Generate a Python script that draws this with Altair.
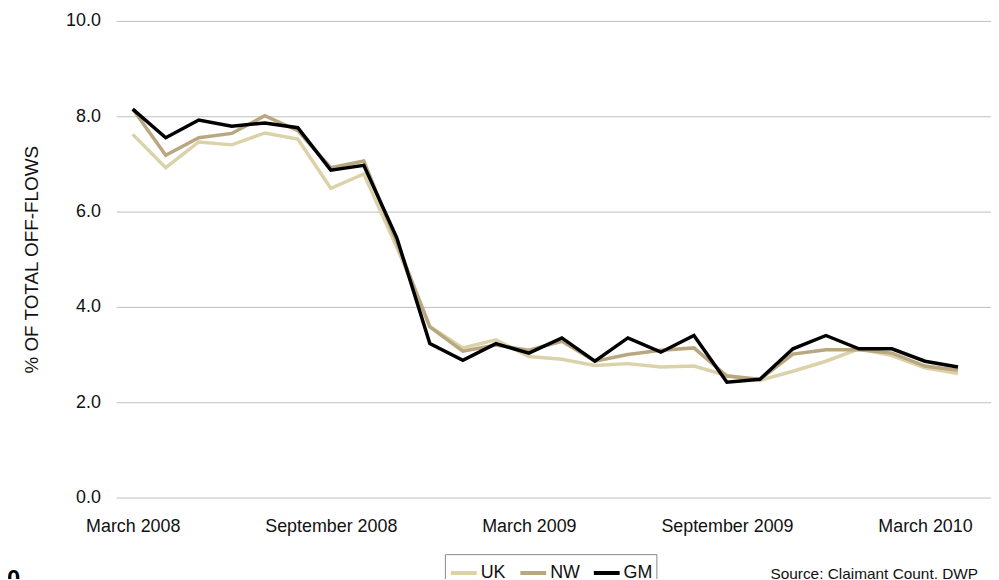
import altair as alt
import pandas as pd

months = [
    "March 2008", "April 2008", "May 2008", "June 2008", "July 2008", "August 2008",
    "September 2008", "October 2008", "November 2008", "December 2008", "January 2009",
    "February 2009", "March 2009", "April 2009", "May 2009", "June 2009", "July 2009",
    "August 2009", "September 2009", "October 2009", "November 2009", "December 2009",
    "January 2010", "February 2010", "March 2010", "April 2010",
]
uk = [7.62, 6.92, 7.46, 7.40, 7.65, 7.52, 6.49, 6.79, 5.25, 3.59, 3.14, 3.31, 2.96,
      2.90, 2.77, 2.81, 2.74, 2.76, 2.56, 2.46, 2.65, 2.86, 3.12, 2.98, 2.72, 2.60]
nw = [8.15, 7.18, 7.55, 7.64, 8.01, 7.70, 6.92, 7.06, 5.35, 3.58, 3.07, 3.20, 3.09,
      3.28, 2.86, 3.00, 3.09, 3.14, 2.55, 2.48, 3.01, 3.10, 3.10, 3.03, 2.76, 2.67]
gm = [8.15, 7.55, 7.92, 7.79, 7.86, 7.76, 6.87, 6.97, 5.45, 3.23, 2.88, 3.23, 3.03,
      3.35, 2.86, 3.35, 3.05, 3.40, 2.42, 2.48, 3.12, 3.40, 3.12, 3.12, 2.86, 2.74]
series_names = ["UK", "NW", "GM"]
series_colors = ["#DCD2A9", "#B8A77F", "#000000"]
label_ticks = [0, 6, 12, 18, 24]
source_text = "Source: Claimant Count, DWP"

rows = []
for name, vals in zip(series_names, [uk, nw, gm]):
    for i, v in enumerate(vals):
        rows.append({"i": i, "month": months[i], "series": name, "value": v})
df = pd.DataFrame(rows)

FONT = "Liberation Sans"
month_js = "[" + ",".join("'" + m + "'" for m in months) + "]"

x_enc = alt.X(
    "i:Q",
    scale=alt.Scale(domain=[-0.5, 26.0], nice=False, zero=False),
    axis=alt.Axis(
        values=label_ticks, labelExpr=month_js + "[datum.value]", grid=False,
        domain=False, ticks=False, labelPadding=20, labelFontSize=18,
        labelColor="#111111", labelFont=FONT, title=None,
    ),
)
y_enc = alt.Y(
    "value:Q",
    scale=alt.Scale(domain=[0, 10], nice=False),
    axis=alt.Axis(
        values=[0, 2, 4, 6, 8, 10], format=".1f", grid=True, gridColor="#C0C0C0",
        gridWidth=1, domain=False, ticks=False, labelPadding=16, labelFontSize=18,
        labelColor="#111111", labelFont=FONT, title="% OF TOTAL OFF-FLOWS",
        titleFont=FONT, titleFontSize=19, titleFontWeight="normal",
        titleColor="#111111", titlePadding=24,
    ),
)
color_enc = alt.Color(
    "series:N",
    scale=alt.Scale(domain=series_names, range=series_colors),
    legend=alt.Legend(
        title=None, orient="none", legendX=331, legendY=537, direction="horizontal",
        symbolType="stroke", symbolSize=676, symbolStrokeWidth=4,
        labelFontSize=18, labelFont=FONT, labelColor="#111111",
        strokeColor="#888888", padding=4, columnPadding=6, labelOffset=2,
    ),
)

layers = []
for name in series_names:
    layers.append(
        alt.Chart(df).transform_filter(alt.datum.series == name)
        .mark_line(strokeWidth=3.5, strokeJoin="miter", clip=False)
        .encode(x=x_enc, y=y_enc, color=color_enc)
    )

src = alt.Chart(pd.DataFrame({"t": [source_text]})).mark_text(
    align="right", baseline="middle", fontSize=15.5, font=FONT, color="#111111"
).encode(text="t:N", x=alt.value(868), y=alt.value(557))

zero = alt.Chart(pd.DataFrame({"t": ["0"]})).mark_text(
    align="left", baseline="top", fontSize=24, font=FONT, fontWeight="bold", color="#000000"
).encode(text="t:N", x=alt.value(-110), y=alt.value(551))

chart = alt.layer(*layers, src, zero).properties(
    width=881, height=480,
    background="white",
    autosize=alt.AutoSizeParams(type="none"),
    padding={"left": 109, "top": 11, "right": 0, "bottom": 80},
).configure_view(stroke=None)

chart.save("out.html", embed_options={"renderer": "svg", "actions": False})
